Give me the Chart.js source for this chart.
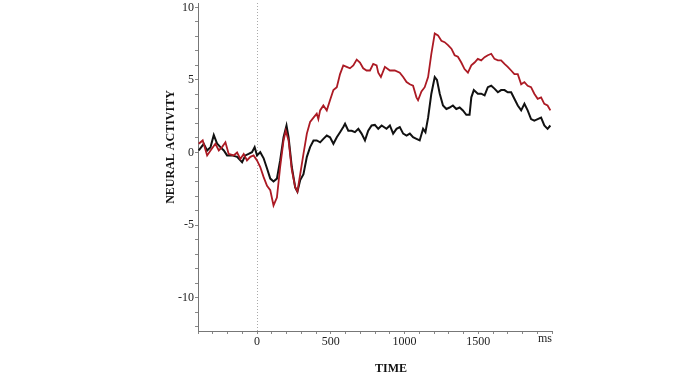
<!DOCTYPE html>
<html>
<head>
<meta charset="utf-8">
<script src="https://cdn.jsdelivr.net/npm/chart.js@4.4.1/dist/chart.umd.min.js"></script>
<style>
  html, body { margin: 0; padding: 0; background: #fff; }
  canvas { display: block; }
</style>
</head>
<body>
<canvas id="erpChart" width="688" height="387"></canvas>
<script>
// time in ms, activity in arbitrary units
const timeRed = [-395,-368,-338,-315,-282,-259,-237,-214,-192,-158,-135,-113,-90,-68,-45,-23,0,22,45,68,90,112,135,157,180,195,214,236,259,274,293,315,338,360,383,405,416,428,450,473,495,518,541,563,585,608,630,653,676,698,720,743,766,788,811,822,840,867,901,934,968,991,1014,1036,1058,1081,1092,1115,1137,1160,1182,1205,1227,1250,1272,1295,1318,1340,1362,1385,1407,1430,1453,1475,1497,1520,1543,1565,1588,1610,1633,1655,1678,1700,1723,1745,1768,1791,1813,1835,1858,1880,1903,1926,1948,1970,1989];
const valRed = [0.6,0.83,-0.2,0.14,0.6,0.14,0.37,0.7,-0.1,-0.2,0,-0.45,-0.1,-0.55,-0.3,-0.2,-0.55,-1.0,-1.7,-2.3,-2.6,-3.65,-3.1,-1.0,0.83,1.5,0.83,-1.2,-2.4,-2.7,-1.5,-0.1,1.3,2.1,2.4,2.67,2.3,2.9,3.24,2.9,3.6,4.3,4.5,5.4,6.0,5.9,5.8,6.0,6.4,6.2,5.8,5.65,5.65,6.1,6.0,5.5,5.2,5.9,5.65,5.65,5.5,5.2,4.85,4.7,4.6,3.8,3.6,4.2,4.5,5.2,6.8,8.2,8.07,7.7,7.6,7.4,7.15,6.7,6.6,6.2,5.75,5.5,6.0,6.2,6.45,6.35,6.57,6.7,6.8,6.45,6.35,6.35,6.1,5.9,5.65,5.4,5.4,4.7,4.85,4.6,4.5,4.05,3.7,3.8,3.35,3.24,2.9];

const timeBlack = [-395,-361,-338,-315,-293,-270,-248,-225,-203,-169,-135,-101,-79,-57,-34,-16,0,22,45,68,90,112,135,157,180,200,214,236,259,274,293,315,338,360,383,405,428,450,473,495,518,541,563,585,597,619,642,664,687,709,732,754,777,799,822,845,878,901,923,946,968,991,1014,1036,1058,1081,1103,1126,1142,1160,1182,1205,1220,1239,1261,1284,1306,1328,1351,1374,1396,1419,1441,1453,1470,1497,1520,1543,1565,1588,1610,1633,1655,1678,1700,1723,1745,1768,1791,1813,1835,1858,1880,1903,1926,1948,1970,1989];
const valBlack = [0.14,0.6,0.14,0.37,1.2,0.6,0.37,0.14,-0.2,-0.2,-0.3,-0.67,-0.2,-0.1,0.02,0.37,-0.2,0.02,-0.4,-1.1,-1.8,-2.0,-1.8,-0.55,1.05,1.86,1.05,-1.0,-2.4,-2.7,-1.9,-1.5,-0.3,0.37,0.83,0.83,0.7,0.94,1.17,1.05,0.6,1.05,1.4,1.75,1.98,1.5,1.5,1.4,1.63,1.3,0.83,1.5,1.86,1.9,1.63,1.86,1.63,1.86,1.3,1.63,1.75,1.3,1.17,1.3,1.05,0.94,0.83,1.63,1.4,2.4,4.05,5.2,5.0,4.05,3.24,3.0,3.1,3.24,3.0,3.1,2.9,2.6,2.6,3.8,4.3,4.05,4.05,3.93,4.5,4.6,4.4,4.15,4.3,4.3,4.15,4.15,3.7,3.24,2.9,3.35,2.9,2.3,2.2,2.3,2.4,1.86,1.63,1.86];

const xTickLabels = [0, 500, 1000, 1500];
const yTickLabels = [10, 5, 0, -5, -10];

const toPoints = (t, v) => t.map((x, i) => ({ x: x, y: v[i] }));

const serif = '"Liberation Serif", "Times New Roman", serif';

const extras = {
  id: 'extras',
  beforeDatasetsDraw(chart) {
    const { ctx, scales: { x, y } } = chart;
    const px = x.getPixelForValue(0);
    ctx.save();
    ctx.strokeStyle = '#aaa';
    ctx.lineWidth = 1;
    ctx.setLineDash([1, 2]);
    ctx.beginPath();
    ctx.moveTo(px + 0.5, y.top);
    ctx.lineTo(px + 0.5, y.bottom);
    ctx.stroke();
    ctx.restore();
  },
  afterDraw(chart) {
    const { ctx, scales: { x } } = chart;
    ctx.save();
    ctx.fillStyle = '#222';
    ctx.textBaseline = 'middle';
    ctx.font = '12px ' + serif;
    ctx.textAlign = 'right';
    ctx.fillText('ms', x.right, 339);
    ctx.fillStyle = '#111';
    ctx.font = 'bold 12px ' + serif;
    ctx.textAlign = 'center';
    ctx.fillText('TIME', 391, 369);
    ctx.translate(171, 147);
    ctx.rotate(-Math.PI / 2);
    ctx.fillText('NEURAL ACTIVITY', 0, 0);
    ctx.restore();
  }
};

new Chart(document.getElementById('erpChart'), {
  type: 'line',
  data: {
    datasets: [
      {
        label: 'red',
        data: toPoints(timeRed, valRed),
        borderColor: 'rgb(172, 26, 36)',
        borderWidth: 1.8,
        pointRadius: 0,
        tension: 0
      },
      {
        label: 'black',
        data: toPoints(timeBlack, valBlack),
        borderColor: '#111',
        borderWidth: 2,
        pointRadius: 0,
        tension: 0
      }
    ]
  },
  options: {
    responsive: false,
    animation: false,
    layout: { padding: { left: 160, right: 136, top: 3, bottom: 0 } },
    plugins: {
      legend: { display: false },
      tooltip: { enabled: false }
    },
    scales: {
      x: {
        type: 'linear',
        min: -400,
        max: 2000,
        afterFit(s) { s.height = 56; s.paddingLeft = 0; s.paddingRight = 0; },
        border: { color: '#777', width: 1 },
        grid: { drawOnChartArea: false, drawTicks: true, tickLength: 3, color: '#888' },
        ticks: {
          stepSize: 100,
          autoSkip: false,
          maxRotation: 0,
          padding: 1,
          color: '#222',
          font: { family: serif, size: 12 },
          callback: v => xTickLabels.includes(Math.round(v)) ? String(Math.round(v)) : ''
        }
      },
      y: {
        min: -12.3,
        max: 10.3,
        afterFit(s) { s.width = 38; s.paddingTop = 0; s.paddingBottom = 0; },
        border: { color: '#777', width: 1 },
        grid: { drawOnChartArea: false, drawTicks: true, tickLength: 3, color: '#888' },
        ticks: {
          stepSize: 1,
          includeBounds: false,
          autoSkip: false,
          padding: 1,
          color: '#222',
          font: { family: serif, size: 12 },
          callback: v => yTickLabels.includes(Math.round(v)) ? String(Math.round(v)) : ''
        }
      }
    }
  },
  plugins: [extras]
});
</script>
</body>
</html>
